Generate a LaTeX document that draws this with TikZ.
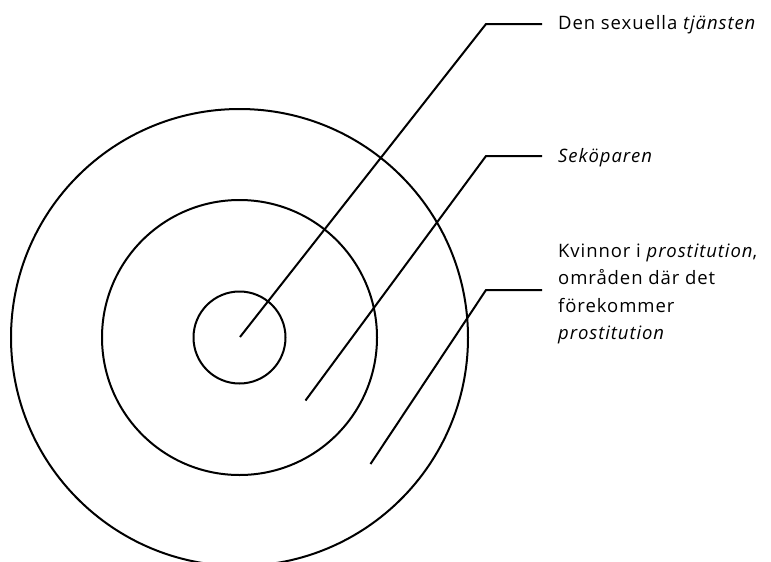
\documentclass[tikz,border=0pt]{standalone}
\usepackage{fontspec}
\setmainfont{Open Sans}[LetterSpace=5]
\begin{document}
\begin{tikzpicture}[x=1pt,y=-1pt,
  ring/.style={circle,draw,line width=2pt,inner sep=0pt},
  leader/.style={line width=2pt},
  lbl/.style={anchor=base west,inner sep=0pt,font=\fontsize{18.5}{27.5}\selectfont}]
\useasboundingbox (0,0) rectangle (771,562);
\node[ring,minimum size=457pt] (outer) at (239.5,337.5) {};
\node[ring,minimum size=275pt] (middle) at (239.5,337.5) {};
\node[ring,minimum size=92pt] (inner) at (239.5,337.5) {};
\coordinate (p1) at (240,337);
\coordinate (k1) at (486,24);
\coordinate (h1) at (542,24);
\coordinate (p2) at (305.5,400.5);
\coordinate (k2) at (486,156);
\coordinate (h2) at (542,156);
\coordinate (p3) at (370.5,464);
\coordinate (k3) at (486,290);
\coordinate (h3) at (542,290);
\node[lbl] (t1) at (558,29) {Den sexuella \textit{tjänsten}};
\node[lbl] (t2) at (558,162) {\textit{Seköparen}};
\node[lbl] (t3) at (558,257) {\vtop{\baselineskip=27.5pt\hbox{Kvinnor i \textit{prostitution},}\hbox{områden där det}\hbox{förekommer}\hbox{\textit{prostitution}}}};
\draw[leader] (p1) -- (k1) -- (h1);
\draw[leader] (p2) -- (k2) -- (h2);
\draw[leader] (p3) -- (k3) -- (h3);
\end{tikzpicture}
\end{document}
